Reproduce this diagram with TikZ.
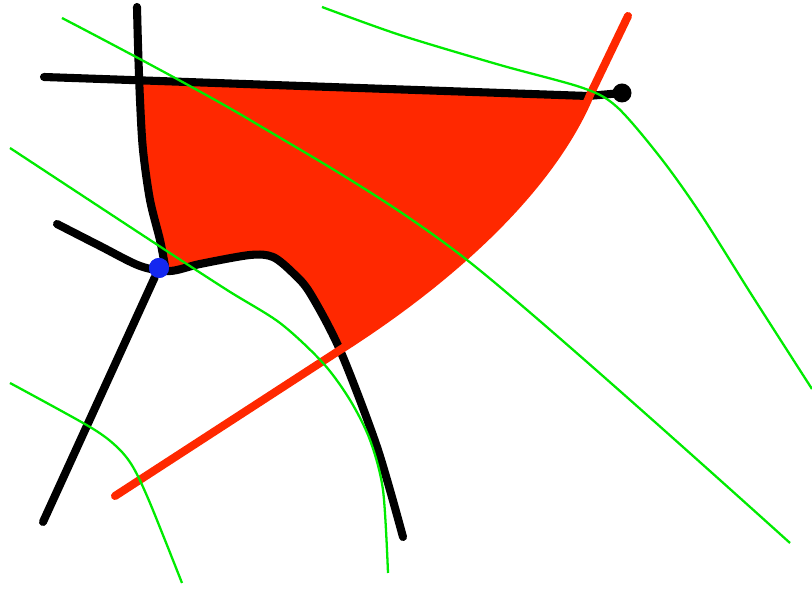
\documentclass[tikz,border=0pt]{standalone}
\usepackage{xcolor}
\usepackage{tikz}

\definecolor{regionred}{RGB}{255,40,0}
\definecolor{levelgreen}{RGB}{0,235,0}
\definecolor{pointblue}{RGB}{20,40,240}

\begin{document}
\begin{tikzpicture}[
      x=0.02cm, y=-0.02cm,
      boundary/.style={line width=4.6pt, black, line cap=round, line join=round},
      front/.style={line width=4.6pt, regionred, line cap=round},
      level/.style={line width=1.3pt, levelgreen},
      junction/.style={circle, fill=pointblue, inner sep=0pt, minimum size=0.4cm}
    ]
    \useasboundingbox (0,0) rectangle (812,590);

    % Key points
    \coordinate (corner) at (141,84);
    \coordinate (frontlow) at (115,496);
    \coordinate (cusp) at (340,350);
    \coordinate (frontknee) at (590,95);
    \coordinate (fronttip) at (628,16);
    \coordinate (foot) at (43,522);

    % Red region
    \fill[regionred] (corner) -- (588,96) -- (frontknee) .. controls (550,190) and (450,280) .. (cusp)
      -- plot[smooth] coordinates {(340,350) (327,323) (310,293) (293,273) (273,257) (250,255) (200,264) (168,270)}
      -- plot[smooth] coordinates {(165,268) (160,240) (150,200) (143,150) (140,100) (141,84)} -- cycle;

    % Black boundaries
    \draw[boundary] plot[smooth] coordinates {(137,7) (138,45) (140,100) (143,150) (150,200) (160,240) (165,266)};
    \draw[boundary] (44,77) -- (588,96) -- (622,93);
    \fill (622,93) circle (0.19cm);
    \draw[boundary] plot[smooth] coordinates {(57,224) (100,246) (140,266) (170,271) (200,264) (250,255) (273,257) (293,273) (310,293) (340,350) (377,447) (403,537)};

    % Junction point
    \node[junction] (meet) at (159,268) {};
    \draw[boundary] (meet) -- (foot);
    \node[junction] at (meet) {};

    % Red front
    \draw[front] (frontlow) -- (cusp) .. controls (450,280) and (550,190) .. (frontknee) -- (fronttip);

    % Green level lines
    \draw[level] plot[smooth] coordinates {(62,18) (250,120) (467,260) (790,543)};
    \draw[level] plot[smooth] coordinates {(10,148) (150,240) (227,290) (280,323) (323,363) (350,400) (370,440) (383,490) (388,573)};
    \draw[level] plot[smooth] coordinates {(10,383) (90,427) (117,447) (133,467) (150,503) (182,583)};
    \draw[level] plot[smooth] coordinates {(322,7) (400,35) (500,65) (583,88) (617,107) (660,157) (700,213) (753,297) (812,389)};
  \end{tikzpicture}
\end{document}
